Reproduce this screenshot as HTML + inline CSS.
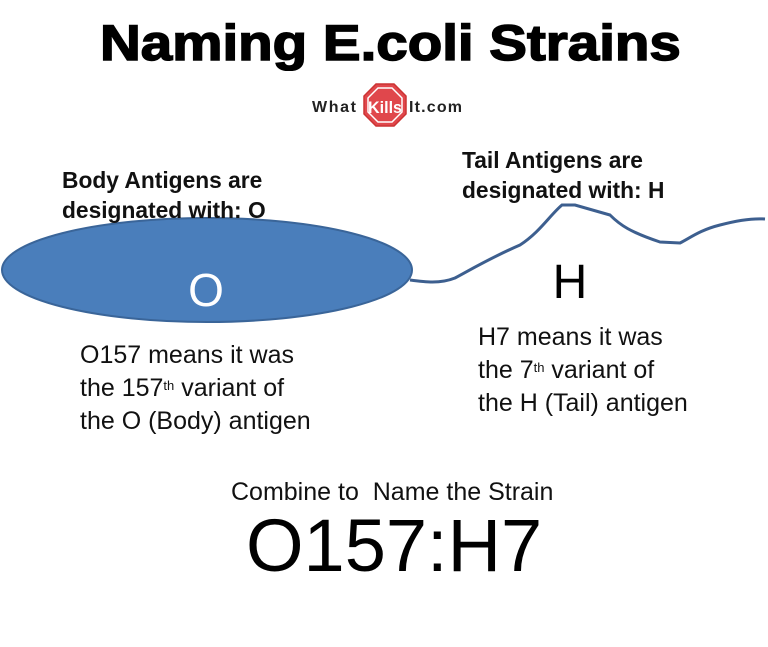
<!DOCTYPE html>
<html><head><style>
body{margin:0;width:768px;height:647px;background:#fff;position:relative;overflow:hidden;font-family:"Liberation Sans",sans-serif}
.a{position:absolute;white-space:nowrap}
.b{font-weight:bold;font-size:23px;line-height:30px;transform:scaleX(0.99);transform-origin:left top;color:#111}
.c{font-size:25px;line-height:33px;color:#111}
sup{font-size:13px;vertical-align:top;position:relative;top:-3px}
</style></head><body>
<div class="a" style="left:100px;top:14px;font-size:50px;font-weight:bold;color:#000;transform:scaleX(1.13);transform-origin:left top;-webkit-text-stroke:1.5px #000">Naming E.coli Strains</div>
<svg class="a" style="left:0;top:0" width="768" height="647">
<polygon points="376,84 394,84 406,96 406,114 394,126 376,126 364,114 364,96" fill="#e0474c" stroke="#c33" stroke-width="1.5"/>
<polygon points="378,88 392,88 402,98 402,112 392,122 378,122 368,112 368,98" fill="none" stroke="#fff" stroke-width="1.5"/>
<text x="312" y="112" font-family="Liberation Sans" font-weight="bold" font-size="16" fill="#222" textLength="44">What</text>
<text x="368" y="113" font-family="Liberation Sans" font-weight="bold" font-size="17" fill="#fff" textLength="34" lengthAdjust="spacingAndGlyphs">Kills</text>
<text x="409" y="112" font-family="Liberation Sans" font-weight="bold" font-size="16" fill="#222" textLength="53">It.com</text>
<path d="M410,280 C425,282 440,284 455,278 C470,270 490,258 520,245 C540,232 550,215 562,205 L575,205 L610,215 C620,225 630,232 660,242 L680,243 C690,238 700,230 720,225 C735,221 750,218 765,219" fill="none" stroke="#3d5f8f" stroke-width="3"/>
<ellipse cx="207" cy="270" rx="205" ry="52" fill="#4a7ebb" stroke="#3a6599" stroke-width="2"/>
<text x="206" y="306" text-anchor="middle" font-family="Liberation Sans" font-size="46" fill="#fff">O</text>
<text x="570" y="298" text-anchor="middle" font-family="Liberation Sans" font-size="48" fill="#000">H</text>
</svg>
<div class="a b" style="left:62px;top:165px">Body Antigens are<br>designated with: O</div>
<div class="a b" style="left:462px;top:145px">Tail Antigens are<br>designated with: H</div>
<div class="a c" style="left:80px;top:339px">O157 means it was<br>the 157<sup>th</sup> variant of<br>the O (Body) antigen</div>
<div class="a c" style="left:478px;top:321px">H7 means it was<br>the 7<sup>th</sup> variant of<br>the H (Tail) antigen</div>
<div class="a" style="left:231px;top:478px;font-size:25px;color:#111">Combine to &nbsp;Name the Strain</div>
<div class="a" style="left:246px;top:503px;font-size:74px;color:#000">O157:H7</div>
</body></html>
